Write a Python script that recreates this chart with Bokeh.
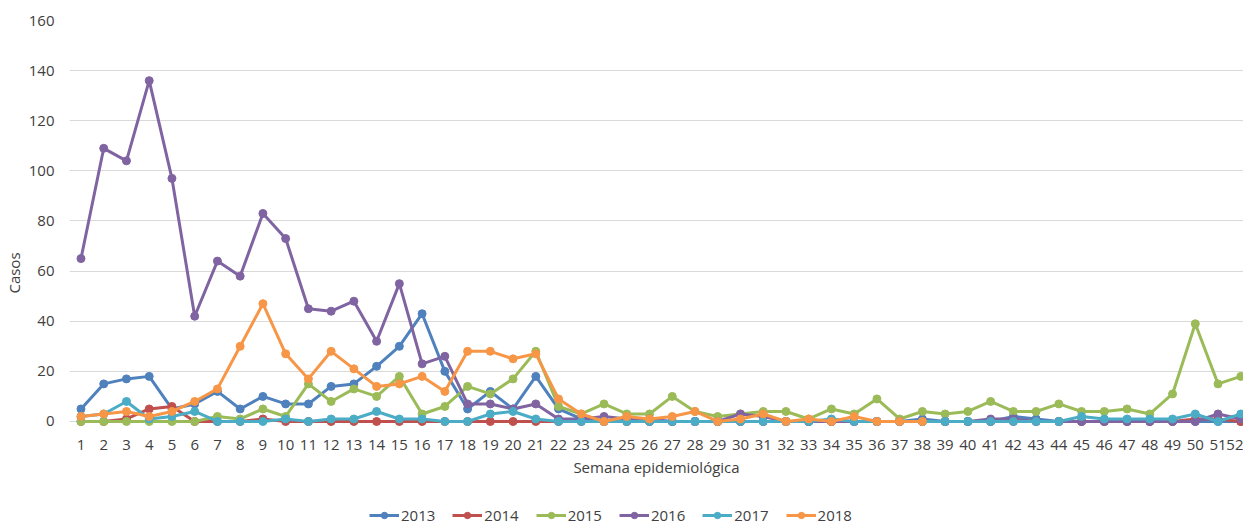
from bokeh.plotting import figure
from bokeh.models import Legend, LegendItem, FixedTicker, Range1d
from bokeh.embed import file_html
from bokeh.resources import INLINE

weeks = list(range(1, 53))
week_labels = [str(w) for w in weeks]
y_ticks = [0, 20, 40, 60, 80, 100, 120, 140, 160]

s2013 = [5, 15, 17, 18, 5, 7, 12, 5, 10, 7, 7, 14, 15, 22, 30, 43, 20, 5, 12, 5,
         18, 5, 1, 0, 0, 0, 0, 0, 0, 0, 0, 0, 0, 0, 0, 0, 0, 1, 0, 0,
         0, 2, 1, 0, 0, 0, 0, 0, 0, 0, 0, 0]
s2014 = [0, 0, 1, 5, 6, 0, 0, 0, 1, 0, 0, 0, 0, 0, 0, 0, 0, 0, 0, 0,
         0, 0, 0, 0, 0, 0, 0, 0, 0, 0, 0, 0, 0, 0, 0, 0, 0, 0, 0, 0,
         0, 0, 0, 0, 0, 0, 0, 0, 0, 1, 1, 0]
s2015 = [0, 0, 0, 0, 0, 0, 2, 1, 5, 2, 15, 8, 13, 10, 18, 3, 6, 14, 11, 17,
         28, 6, 3, 7, 3, 3, 10, 4, 2, 3, 4, 4, 1, 5, 3, 9, 1, 4, 3, 4,
         8, 4, 4, 7, 4, 4, 5, 3, 11, 39, 15, 18]
s2016 = [65, 109, 104, 136, 97, 42, 64, 58, 83, 73, 45, 44, 48, 32, 55, 23, 26, 7, 7, 5,
         7, 1, 1, 2, 1, 1, 0, 0, 0, 3, 2, 0, 0, 0, 0, 0, 0, 0, 0, 0,
         1, 1, 0, 0, 0, 0, 0, 0, 0, 0, 3, 1]
s2017 = [2, 3, 8, 1, 2, 4, 0, 0, 0, 1, 0, 1, 1, 4, 1, 1, 0, 0, 3, 4,
         1, 0, 0, 0, 0, 0, 0, 0, 0, 0, 0, 0, 0, 1, 0, 0, 0, 0, 0, 0,
         0, 0, 0, 0, 2, 1, 1, 1, 1, 3, 0, 3]
s2018 = [2, 3, 4, 2, 4, 8, 13, 30, 47, 27, 17, 28, 21, 14, 15, 18, 12, 28, 28, 25,
         27, 9, 3, 0, 2, 1, 2, 4, 0, 1, 3, 0, 1, 0, 2, 0, 0, 0]

series_names = ["2013", "2014", "2015", "2016", "2017", "2018"]
series_values = [s2013, s2014, s2015, s2016, s2017, s2018]
colors = ["#4F81BD", "#C0504D", "#9BBB59", "#8064A2", "#4BACC6", "#F79646"]

FONT = "Open Sans"
TEXT = "#404040"

# frame spans down to the bottom of the figure; y=0 sits 104px above it
p = figure(width=1243, height=525,
           x_range=Range1d(0.495, 52.12), y_range=Range1d(-41.5, 160),
           output_backend="svg", toolbar_location=None,
           min_border_left=68, min_border_right=0,
           min_border_top=20, min_border_bottom=0)
p.outline_line_color = None
p.background_fill_color = "white"
p.border_fill_color = "white"

p.xgrid.visible = False
p.ygrid.grid_line_color = "#D9D9D9"
p.ygrid.grid_line_width = 1
p.ygrid.ticker = FixedTicker(ticks=y_ticks)

p.yaxis.ticker = FixedTicker(ticks=y_ticks)
p.yaxis.axis_line_color = None
p.yaxis.major_tick_line_color = None
p.yaxis.minor_tick_line_color = None
p.yaxis.major_tick_out = 0
p.yaxis.major_label_standoff = 15
p.yaxis.axis_label = "Casos"
p.yaxis.axis_label_standoff = 2
p.yaxis.axis_label_text_font_style = "normal"
p.yaxis.axis_label_text_font = FONT
p.yaxis.axis_label_text_font_size = "15px"
p.yaxis.axis_label_text_color = TEXT
p.yaxis.major_label_text_font = FONT
p.yaxis.major_label_text_font_size = "15px"
p.yaxis.major_label_text_color = TEXT

p.xaxis.fixed_location = 0
p.xaxis.ticker = FixedTicker(ticks=weeks)
p.xaxis.major_label_overrides = {w: l for w, l in zip(weeks, week_labels)}
p.xaxis.axis_line_color = None
p.xaxis.major_tick_line_color = None
p.xaxis.minor_tick_line_color = None
p.xaxis.major_tick_out = 0
p.xaxis.major_label_standoff = 19
p.xaxis.axis_label = "Semana epidemiológica"
p.xaxis.axis_label_standoff = 3
p.xaxis.axis_label_text_font_style = "normal"
p.xaxis.axis_label_text_font = FONT
p.xaxis.axis_label_text_font_size = "15px"
p.xaxis.axis_label_text_color = TEXT
p.xaxis.major_label_text_font = FONT
p.xaxis.major_label_text_font_size = "15px"
p.xaxis.major_label_text_color = TEXT

items = []
for name, vals, col in zip(series_names, series_values, colors):
    xs = weeks[:len(vals)]
    ln = p.line(xs, vals, line_color=col, line_width=3, line_join="round")
    sc = p.scatter(xs, vals, size=8, fill_color=col, line_color=col)
    items.append(LegendItem(label=name, renderers=[ln, sc]))

legend = Legend(items=items, orientation="horizontal", location=(300, 0),
                glyph_width=30, glyph_height=16, label_height=16,
                label_standoff=2, spacing=17, padding=0, margin=0,
                border_line_color=None, background_fill_alpha=0,
                label_text_font=FONT, label_text_font_size="15px",
                label_text_color=TEXT)
p.add_layout(legend)

open("out.html", "w").write(file_html(p, INLINE))
